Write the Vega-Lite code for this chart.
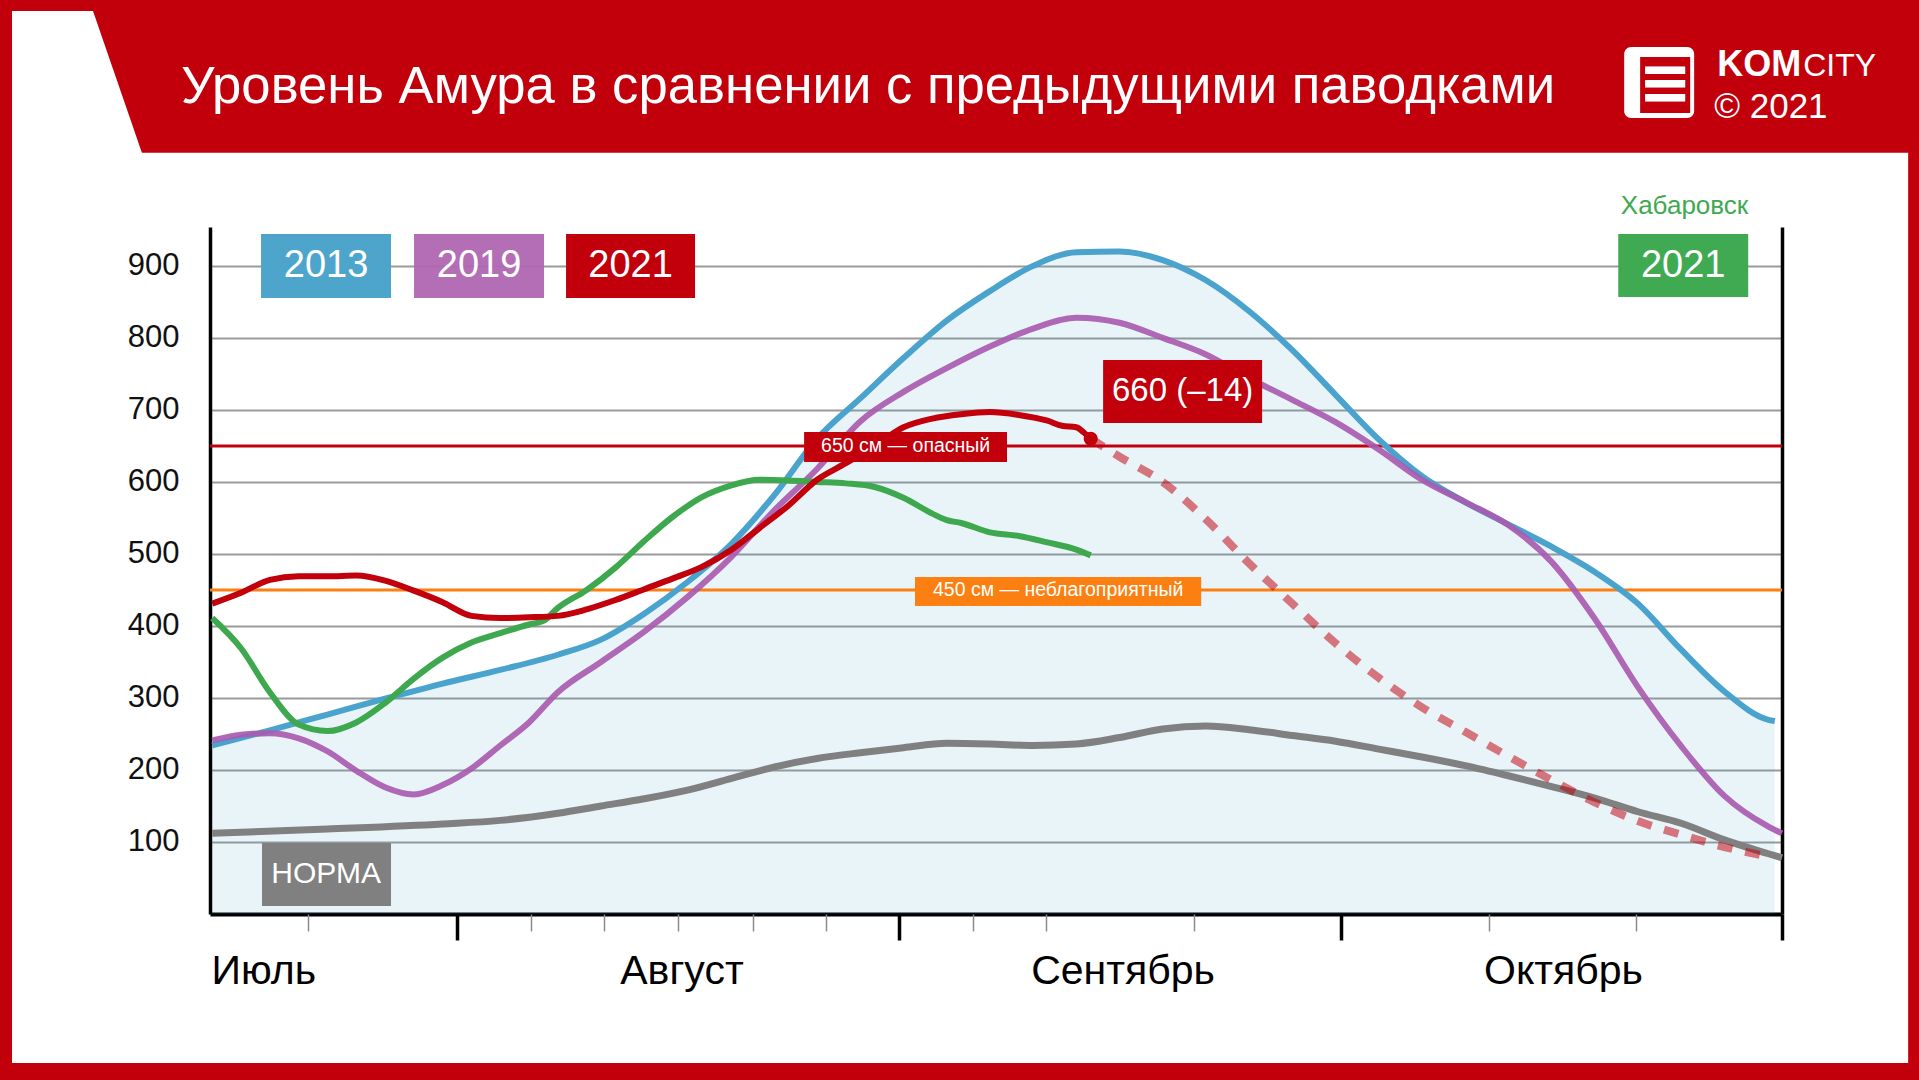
{
"$schema":"https://vega.github.io/schema/vega-lite/v6.json",
"width":1572,"height":687,
"autosize":{"type":"none"},
"padding":{"left":210,"top":227,"right":137,"bottom":166},
"background":"#ffffff",
"config":{"view":{"stroke":null},"font":"Liberation Sans"},
"datasets":{"levels":[
{"s":"2013","date":"2021-07-15","v":234},{"s":"2013","date":"2021-07-19","v":255},{"s":"2013","date":"2021-07-23","v":277},{"s":"2013","date":"2021-07-27","v":299},{"s":"2013","date":"2021-07-31","v":320},{"s":"2013","date":"2021-08-04","v":339},{"s":"2013","date":"2021-08-08","v":360},{"s":"2013","date":"2021-08-11","v":381},{"s":"2013","date":"2021-08-14","v":417},{"s":"2013","date":"2021-08-17","v":461},{"s":"2013","date":"2021-08-20","v":513},{"s":"2013","date":"2021-08-23","v":581},{"s":"2013","date":"2021-08-26","v":660},{"s":"2013","date":"2021-08-29","v":716},{"s":"2013","date":"2021-09-01","v":772},{"s":"2013","date":"2021-09-04","v":824},{"s":"2013","date":"2021-09-07","v":865},{"s":"2013","date":"2021-09-10","v":900},{"s":"2013","date":"2021-09-13","v":919},{"s":"2013","date":"2021-09-16","v":920},{"s":"2013","date":"2021-09-19","v":908},{"s":"2013","date":"2021-09-22","v":880},{"s":"2013","date":"2021-09-25","v":837},{"s":"2013","date":"2021-09-28","v":783},{"s":"2013","date":"2021-10-01","v":721},{"s":"2013","date":"2021-10-04","v":659},{"s":"2013","date":"2021-10-07","v":608},{"s":"2013","date":"2021-10-10","v":572},{"s":"2013","date":"2021-10-13","v":541},{"s":"2013","date":"2021-10-16","v":510},{"s":"2013","date":"2021-10-19","v":475},{"s":"2013","date":"2021-10-22","v":431},{"s":"2013","date":"2021-10-25","v":367},{"s":"2013","date":"2021-10-28","v":309},{"s":"2013","date":"2021-10-31","v":270},{"s":"2013","date":"2021-10-31T12:00:00Z","v":268},
{"s":"2019","date":"2021-07-15","v":241},{"s":"2019","date":"2021-07-17","v":249},{"s":"2019","date":"2021-07-19","v":251},{"s":"2019","date":"2021-07-21","v":244},{"s":"2019","date":"2021-07-23","v":226},{"s":"2019","date":"2021-07-25","v":199},{"s":"2019","date":"2021-07-27","v":176},{"s":"2019","date":"2021-07-29","v":166},{"s":"2019","date":"2021-07-31","v":179},{"s":"2019","date":"2021-08-02","v":202},{"s":"2019","date":"2021-08-04","v":234},{"s":"2019","date":"2021-08-06","v":266},{"s":"2019","date":"2021-08-08","v":308},{"s":"2019","date":"2021-08-11","v":350},{"s":"2019","date":"2021-08-14","v":392},{"s":"2019","date":"2021-08-17","v":440},{"s":"2019","date":"2021-08-20","v":495},{"s":"2019","date":"2021-08-23","v":560},{"s":"2019","date":"2021-08-26","v":618},{"s":"2019","date":"2021-08-29","v":684},{"s":"2019","date":"2021-09-01","v":725},{"s":"2019","date":"2021-09-04","v":758},{"s":"2019","date":"2021-09-07","v":788},{"s":"2019","date":"2021-09-10","v":813},{"s":"2019","date":"2021-09-13","v":828},{"s":"2019","date":"2021-09-16","v":821},{"s":"2019","date":"2021-09-19","v":800},{"s":"2019","date":"2021-09-22","v":777},{"s":"2019","date":"2021-09-25","v":744},{"s":"2019","date":"2021-09-28","v":714},{"s":"2019","date":"2021-10-01","v":683},{"s":"2019","date":"2021-10-04","v":645},{"s":"2019","date":"2021-10-07","v":603},{"s":"2019","date":"2021-10-10","v":572},{"s":"2019","date":"2021-10-13","v":540},{"s":"2019","date":"2021-10-16","v":489},{"s":"2019","date":"2021-10-19","v":410},{"s":"2019","date":"2021-10-22","v":315},{"s":"2019","date":"2021-10-25","v":233},{"s":"2019","date":"2021-10-28","v":164},{"s":"2019","date":"2021-10-31","v":122},{"s":"2019","date":"2021-11-01","v":112},
{"s":"2021","date":"2021-07-15","v":431},{"s":"2021","date":"2021-07-17","v":446},{"s":"2021","date":"2021-07-19","v":464},{"s":"2021","date":"2021-07-21","v":469},{"s":"2021","date":"2021-07-23","v":469},{"s":"2021","date":"2021-07-25","v":470},{"s":"2021","date":"2021-07-27","v":463},{"s":"2021","date":"2021-07-29","v":449},{"s":"2021","date":"2021-07-31","v":433},{"s":"2021","date":"2021-08-02","v":414},{"s":"2021","date":"2021-08-04","v":411},{"s":"2021","date":"2021-08-06","v":412},{"s":"2021","date":"2021-08-08","v":414},{"s":"2021","date":"2021-08-10","v":423},{"s":"2021","date":"2021-08-12","v":436},{"s":"2021","date":"2021-08-14","v":451},{"s":"2021","date":"2021-08-16","v":466},{"s":"2021","date":"2021-08-18","v":482},{"s":"2021","date":"2021-08-20","v":505},{"s":"2021","date":"2021-08-22","v":536},{"s":"2021","date":"2021-08-24","v":567},{"s":"2021","date":"2021-08-26","v":603},{"s":"2021","date":"2021-08-28","v":626},{"s":"2021","date":"2021-08-30","v":650},{"s":"2021","date":"2021-09-01","v":676},{"s":"2021","date":"2021-09-03","v":688},{"s":"2021","date":"2021-09-05","v":694},{"s":"2021","date":"2021-09-07","v":697},{"s":"2021","date":"2021-09-09","v":693},{"s":"2021","date":"2021-09-11","v":685},{"s":"2021","date":"2021-09-12","v":678},{"s":"2021","date":"2021-09-13","v":676},{"s":"2021","date":"2021-09-13T12:00:00Z","v":669},{"s":"2021","date":"2021-09-14","v":660},
{"s":"2021 прогноз","date":"2021-09-14","v":660},{"s":"2021 прогноз","date":"2021-09-16","v":635},{"s":"2021 прогноз","date":"2021-09-19","v":600},{"s":"2021 прогноз","date":"2021-09-22","v":548},{"s":"2021 прогноз","date":"2021-09-25","v":487},{"s":"2021 прогноз","date":"2021-09-28","v":431},{"s":"2021 прогноз","date":"2021-10-01","v":376},{"s":"2021 прогноз","date":"2021-10-04","v":328},{"s":"2021 прогноз","date":"2021-10-07","v":287},{"s":"2021 прогноз","date":"2021-10-10","v":253},{"s":"2021 прогноз","date":"2021-10-13","v":219},{"s":"2021 прогноз","date":"2021-10-16","v":186},{"s":"2021 прогноз","date":"2021-10-19","v":155},{"s":"2021 прогноз","date":"2021-10-22","v":129},{"s":"2021 прогноз","date":"2021-10-25","v":110},{"s":"2021 прогноз","date":"2021-10-28","v":93},{"s":"2021 прогноз","date":"2021-10-31","v":80},
{"s":"Хабаровск 2021","date":"2021-07-15","v":411},{"s":"Хабаровск 2021","date":"2021-07-17","v":369},{"s":"Хабаровск 2021","date":"2021-07-19","v":308},{"s":"Хабаровск 2021","date":"2021-07-21","v":263},{"s":"Хабаровск 2021","date":"2021-07-23","v":254},{"s":"Хабаровск 2021","date":"2021-07-25","v":266},{"s":"Хабаровск 2021","date":"2021-07-27","v":293},{"s":"Хабаровск 2021","date":"2021-07-29","v":327},{"s":"Хабаровск 2021","date":"2021-07-31","v":356},{"s":"Хабаровск 2021","date":"2021-08-02","v":377},{"s":"Хабаровск 2021","date":"2021-08-04","v":390},{"s":"Хабаровск 2021","date":"2021-08-06","v":402},{"s":"Хабаровск 2021","date":"2021-08-07","v":407},{"s":"Хабаровск 2021","date":"2021-08-08","v":425},{"s":"Хабаровск 2021","date":"2021-08-10","v":450},{"s":"Хабаровск 2021","date":"2021-08-12","v":481},{"s":"Хабаровск 2021","date":"2021-08-14","v":518},{"s":"Хабаровск 2021","date":"2021-08-16","v":552},{"s":"Хабаровск 2021","date":"2021-08-18","v":579},{"s":"Хабаровск 2021","date":"2021-08-20","v":595},{"s":"Хабаровск 2021","date":"2021-08-22","v":603},{"s":"Хабаровск 2021","date":"2021-08-24","v":602},{"s":"Хабаровск 2021","date":"2021-08-26","v":600},{"s":"Хабаровск 2021","date":"2021-08-28","v":598},{"s":"Хабаровск 2021","date":"2021-08-30","v":593},{"s":"Хабаровск 2021","date":"2021-09-01","v":578},{"s":"Хабаровск 2021","date":"2021-09-03","v":556},{"s":"Хабаровск 2021","date":"2021-09-04","v":547},{"s":"Хабаровск 2021","date":"2021-09-05","v":543},{"s":"Хабаровск 2021","date":"2021-09-07","v":530},{"s":"Хабаровск 2021","date":"2021-09-09","v":525},{"s":"Хабаровск 2021","date":"2021-09-11","v":516},{"s":"Хабаровск 2021","date":"2021-09-13","v":506},{"s":"Хабаровск 2021","date":"2021-09-14","v":498},
{"s":"Норма","date":"2021-07-15","v":112},{"s":"Норма","date":"2021-07-23","v":118},{"s":"Норма","date":"2021-07-31","v":125},{"s":"Норма","date":"2021-08-04","v":130},{"s":"Норма","date":"2021-08-08","v":140},{"s":"Норма","date":"2021-08-11","v":150},{"s":"Норма","date":"2021-08-14","v":160},{"s":"Норма","date":"2021-08-17","v":172},{"s":"Норма","date":"2021-08-20","v":188},{"s":"Норма","date":"2021-08-23","v":204},{"s":"Норма","date":"2021-08-26","v":216},{"s":"Норма","date":"2021-08-29","v":224},{"s":"Норма","date":"2021-09-01","v":231},{"s":"Норма","date":"2021-09-04","v":237},{"s":"Норма","date":"2021-09-07","v":236},{"s":"Норма","date":"2021-09-10","v":234},{"s":"Норма","date":"2021-09-13","v":236},{"s":"Норма","date":"2021-09-16","v":245},{"s":"Норма","date":"2021-09-19","v":257},{"s":"Норма","date":"2021-09-22","v":261},{"s":"Норма","date":"2021-09-25","v":256},{"s":"Норма","date":"2021-09-28","v":248},{"s":"Норма","date":"2021-10-01","v":240},{"s":"Норма","date":"2021-10-04","v":229},{"s":"Норма","date":"2021-10-07","v":218},{"s":"Норма","date":"2021-10-10","v":206},{"s":"Норма","date":"2021-10-13","v":192},{"s":"Норма","date":"2021-10-16","v":177},{"s":"Норма","date":"2021-10-19","v":161},{"s":"Норма","date":"2021-10-22","v":142},{"s":"Норма","date":"2021-10-25","v":126},{"s":"Норма","date":"2021-10-28","v":103},{"s":"Норма","date":"2021-10-31","v":84},{"s":"Норма","date":"2021-11-01","v":78}
]},
"layer":[
{"data":{"name":"levels"},"transform":[{"filter":"datum.s === '2013'"}],
 "mark":{"type":"area","color":"#4aa3cd","opacity":0.12,"interpolate":"monotone"},
 "encoding":{
  "x":{"field":"date","type":"temporal","scale":{"type":"utc","domain":[{"year":2021,"month":7,"date":14,"hours":20,"minutes":20,"utc":true},{"year":2021,"month":11,"date":1,"utc":true}],"nice":false},
   "axis":{"orient":"bottom","title":null,"values":[{"year":2021,"month":7,"date":18,"hours":13,"utc":true},{"year":2021,"month":8,"date":16,"hours":14,"utc":true},{"year":2021,"month":9,"date":16,"hours":5,"utc":true},{"year":2021,"month":10,"date":16,"hours":19,"utc":true}],
    "labelExpr":"['Июль','Август','Сентябрь','Октябрь'][utcmonth(datum.value)-6]","ticks":false,"tickSize":0,"grid":false,"domain":true,"domainColor":"#000000","domainWidth":4,
    "labelFontSize":41,"labelColor":"#000000","labelPadding":69,"labelBaseline":"alphabetic","labelAlign":"center","labelFlush":false,"labelOverlap":false,"labelLimit":0,"labelFont":"Liberation Sans"}},
  "y":{"field":"v","type":"quantitative","scale":{"domain":[0,954],"nice":false,"zero":true},
   "axis":{"orient":"left","title":null,"values":[100,200,300,400,500,600,700,800,900],"grid":true,"gridColor":"#9a9a9a","gridWidth":2,"ticks":false,"tickSize":0,"domain":true,"domainColor":"#000000","domainWidth":3.5,"labelFontSize":31,"labelColor":"#111111","labelPadding":31,"labelFont":"Liberation Sans"}}
 }},
{"data":{"values":[{}]},"mark":{"type":"rule","color":"#c1000c","strokeWidth":3},"encoding":{"y":{"datum":650,"type":"quantitative","axis":null}}},
{"data":{"values":[{}]},"mark":{"type":"rule","color":"#fb7f11","strokeWidth":3},"encoding":{"y":{"datum":450,"type":"quantitative","axis":null}}},
{"data":{"name":"levels"},"transform":[{"filter":"datum.s === 'Норма'"}],
 "mark":{"type":"line","color":"#808080","strokeWidth":7,"interpolate":"monotone"},
 "encoding":{
  "x":{"field":"date","type":"temporal","axis":{"orient":"bottom","title":null,"values":[{"year":2021,"month":8,"date":1,"utc":true},{"year":2021,"month":8,"date":31,"hours":17,"minutes":17,"utc":true},{"year":2021,"month":10,"date":1,"hours":9,"minutes":20,"utc":true},{"year":2021,"month":11,"date":1,"utc":true}],"labels":false,"ticks":true,"tickSize":26,"tickWidth":3.5,"tickColor":"#000000","domain":false,"grid":false}},
  "y":{"field":"v","type":"quantitative","axis":{"orient":"right","title":null,"labels":false,"ticks":false,"grid":false,"domain":true,"domainColor":"#000000","domainWidth":3.5}}
 }},
{"data":{"name":"levels"},"transform":[{"filter":"datum.s === '2013'"}],
 "mark":{"type":"line","color":"#4aa3cd","strokeWidth":6,"interpolate":"monotone"},
 "encoding":{
  "x":{"field":"date","type":"temporal","axis":{"orient":"bottom","title":null,"values":[{"year":2021,"month":7,"date":21,"hours":16,"utc":true},{"year":2021,"month":8,"date":6,"hours":3,"utc":true},{"year":2021,"month":8,"date":11,"hours":5,"utc":true},{"year":2021,"month":8,"date":16,"hours":8,"utc":true},{"year":2021,"month":8,"date":21,"hours":13,"utc":true},{"year":2021,"month":8,"date":26,"hours":15,"utc":true},{"year":2021,"month":9,"date":5,"hours":20,"utc":true},{"year":2021,"month":9,"date":10,"hours":22,"utc":true},{"year":2021,"month":9,"date":21,"hours":4,"utc":true},{"year":2021,"month":10,"date":11,"hours":16,"utc":true},{"year":2021,"month":10,"date":21,"hours":21,"utc":true}],"labels":false,"ticks":true,"tickSize":17,"tickWidth":1.5,"tickColor":"#8c8c8c","domain":false,"grid":false}},
  "y":{"field":"v","type":"quantitative","axis":null}
 }},
{"data":{"name":"levels"},"transform":[{"filter":"datum.s === '2019'"}],
 "mark":{"type":"line","color":"#a85bb0","opacity":0.92,"strokeWidth":6,"interpolate":"monotone"},
 "encoding":{"x":{"field":"date","type":"temporal","axis":null},"y":{"field":"v","type":"quantitative","axis":null}}},
{"data":{"name":"levels"},"transform":[{"filter":"datum.s === 'Хабаровск 2021'"}],
 "mark":{"type":"line","color":"#3ea84f","strokeWidth":6,"interpolate":"monotone"},
 "encoding":{"x":{"field":"date","type":"temporal","axis":null},"y":{"field":"v","type":"quantitative","axis":null}}},
{"data":{"name":"levels"},"transform":[{"filter":"datum.s === '2021'"}],
 "mark":{"type":"line","color":"#c1000c","strokeWidth":6,"interpolate":"monotone"},
 "encoding":{"x":{"field":"date","type":"temporal","axis":null},"y":{"field":"v","type":"quantitative","axis":null}}},
{"data":{"name":"levels"},"transform":[{"filter":"datum.s === '2021 прогноз'"}],
 "mark":{"type":"line","color":"#c1000c","opacity":0.52,"strokeWidth":8,"strokeDash":[15,13],"interpolate":"monotone"},
 "encoding":{"x":{"field":"date","type":"temporal","axis":null},"y":{"field":"v","type":"quantitative","axis":null}}},
{"data":{"values":[{}]},"mark":{"type":"point","filled":true,"size":200,"color":"#c1000c","opacity":1},
 "encoding":{"x":{"datum":{"year":2021,"month":9,"date":14,"utc":true},"type":"temporal","axis":null},"y":{"datum":660,"type":"quantitative","axis":null}}},
{"data":{"values":[{}]},"mark":{"type":"rect","color":"#c1000c"},
 "encoding":{"x":{"datum":{"year":2021,"month":8,"date":25,"hours":2,"minutes":24,"utc":true},"type":"temporal","axis":null},"x2":{"datum":{"year":2021,"month":9,"date":8,"hours":4,"minutes":30,"utc":true}},"y":{"datum":627.7,"type":"quantitative","axis":null},"y2":{"datum":669.4}}},
{"data":{"values":[{}]},"mark":{"type":"text","text":"650 см — опасный","color":"#ffffff","fontSize":19.5,"align":"center","baseline":"middle"},
 "encoding":{"x":{"datum":{"year":2021,"month":9,"date":1,"hours":3,"minutes":36,"utc":true},"type":"temporal","axis":null},"y":{"datum":650,"type":"quantitative","axis":null}}},
{"data":{"values":[{}]},"mark":{"type":"rect","color":"#fb7f11"},
 "encoding":{"x":{"datum":{"year":2021,"month":9,"date":1,"hours":19,"minutes":12,"utc":true},"type":"temporal","axis":null},"x2":{"datum":{"year":2021,"month":9,"date":21,"hours":16,"minutes":5,"utc":true}},"y":{"datum":427.7,"type":"quantitative","axis":null},"y2":{"datum":468}}},
{"data":{"values":[{}]},"mark":{"type":"text","text":"450 см — неблагоприятный","color":"#ffffff","fontSize":19.5,"align":"center","baseline":"middle"},
 "encoding":{"x":{"datum":{"year":2021,"month":9,"date":11,"hours":17,"minutes":45,"utc":true},"type":"temporal","axis":null},"y":{"datum":450,"type":"quantitative","axis":null}}},
{"data":{"values":[{}]},"mark":{"type":"rect","color":"#c1000c"},
 "encoding":{"x":{"datum":{"year":2021,"month":9,"date":14,"hours":20,"minutes":40,"utc":true},"type":"temporal","axis":null},"x2":{"datum":{"year":2021,"month":9,"date":25,"hours":21,"minutes":36,"utc":true}},"y":{"datum":681.8,"type":"quantitative","axis":null},"y2":{"datum":769.3}}},
{"data":{"values":[{}]},"mark":{"type":"text","text":"660 (–14)","color":"#ffffff","fontSize":33,"align":"center","baseline":"middle"},
 "encoding":{"x":{"datum":{"year":2021,"month":9,"date":20,"hours":9,"minutes":7,"utc":true},"type":"temporal","axis":null},"y":{"datum":725.6,"type":"quantitative","axis":null}}},
{"data":{"values":[{}]},"mark":{"type":"rect","color":"#4ea5cc"},
 "encoding":{"x":{"datum":{"year":2021,"month":7,"date":18,"hours":9,"minutes":22,"utc":true},"type":"temporal","axis":null},"x2":{"datum":{"year":2021,"month":7,"date":27,"hours":10,"utc":true}},"y":{"datum":855.4,"type":"quantitative","axis":null},"y2":{"datum":944.3}}},
{"data":{"values":[{}]},"mark":{"type":"rect","color":"#b066b2","opacity":0.95},
 "encoding":{"x":{"datum":{"year":2021,"month":7,"date":29,"hours":0,"minutes":20,"utc":true},"type":"temporal","axis":null},"x2":{"datum":{"year":2021,"month":8,"date":7,"hours":1,"utc":true}},"y":{"datum":855.4,"type":"quantitative","axis":null},"y2":{"datum":944.3}}},
{"data":{"values":[{}]},"mark":{"type":"rect","color":"#c1000c"},
 "encoding":{"x":{"datum":{"year":2021,"month":8,"date":8,"hours":13,"minutes":40,"utc":true},"type":"temporal","axis":null},"x2":{"datum":{"year":2021,"month":8,"date":17,"hours":12,"minutes":40,"utc":true}},"y":{"datum":855.4,"type":"quantitative","axis":null},"y2":{"datum":944.3}}},
{"data":{"values":[{}]},"mark":{"type":"rect","color":"#40aa52"},
 "encoding":{"x":{"datum":{"year":2021,"month":10,"date":20,"hours":15,"minutes":7,"utc":true},"type":"temporal","axis":null},"x2":{"datum":{"year":2021,"month":10,"date":29,"hours":15,"minutes":40,"utc":true}},"y":{"datum":856.8,"type":"quantitative","axis":null},"y2":{"datum":944.3}}},
{"data":{"values":[{}]},"mark":{"type":"rect","color":"#808080"},
 "encoding":{"x":{"datum":{"year":2021,"month":7,"date":18,"hours":11,"utc":true},"type":"temporal","axis":null},"x2":{"datum":{"year":2021,"month":7,"date":27,"hours":10,"utc":true}},"y":{"datum":11.1,"type":"quantitative","axis":null},"y2":{"datum":98.6}}},
{"data":{"values":[{}]},"mark":{"type":"text","text":"2013","color":"#ffffff","fontSize":38,"align":"center","baseline":"middle"},
 "encoding":{"x":{"datum":{"year":2021,"month":7,"date":22,"hours":21,"minutes":40,"utc":true},"type":"temporal","axis":null},"y":{"datum":900,"type":"quantitative","axis":null}}},
{"data":{"values":[{}]},"mark":{"type":"text","text":"2019","color":"#ffffff","fontSize":38,"align":"center","baseline":"middle"},
 "encoding":{"x":{"datum":{"year":2021,"month":8,"date":2,"hours":12,"minutes":40,"utc":true},"type":"temporal","axis":null},"y":{"datum":900,"type":"quantitative","axis":null}}},
{"data":{"values":[{}]},"mark":{"type":"text","text":"2021","color":"#ffffff","fontSize":38,"align":"center","baseline":"middle"},
 "encoding":{"x":{"datum":{"year":2021,"month":8,"date":13,"hours":1,"minutes":10,"utc":true},"type":"temporal","axis":null},"y":{"datum":900,"type":"quantitative","axis":null}}},
{"data":{"values":[{}]},"mark":{"type":"text","text":"2021","color":"#ffffff","fontSize":38,"align":"center","baseline":"middle"},
 "encoding":{"x":{"datum":{"year":2021,"month":10,"date":25,"hours":3,"minutes":20,"utc":true},"type":"temporal","axis":null},"y":{"datum":900,"type":"quantitative","axis":null}}},
{"data":{"values":[{}]},"mark":{"type":"text","text":"Хабаровск","color":"#3fa950","fontSize":26,"align":"right","baseline":"alphabetic"},
 "encoding":{"x":{"datum":{"year":2021,"month":10,"date":29,"hours":15,"minutes":40,"utc":true},"type":"temporal","axis":null},"y":{"datum":972.1,"type":"quantitative","axis":null}}},
{"data":{"values":[{}]},"mark":{"type":"text","text":"НОРМА","color":"#ffffff","fontSize":30,"align":"center","baseline":"middle"},
 "encoding":{"x":{"datum":{"year":2021,"month":7,"date":22,"hours":22,"utc":true},"type":"temporal","axis":null},"y":{"datum":54.9,"type":"quantitative","axis":null}}},
{"data":{"values":[{}]},"mark":{"type":"rect","color":"#c1000c"},
 "encoding":{"x":{"datum":{"year":2021,"month":6,"date":28,"utc":true},"type":"temporal","axis":null},"x2":{"datum":{"year":2021,"month":11,"date":12,"utc":true}},"y":{"datum":1057,"type":"quantitative","axis":null},"y2":{"datum":1300}}},
{"data":{"values":[{}]},"mark":{"type":"point","shape":"M-1,-1L0.141,-1L0.831,1L-1,1Z","filled":true,"size":20164,"color":"#ffffff","opacity":1},
 "encoding":{"x":{"datum":{"year":2021,"month":7,"date":6,"hours":0,"minutes":40,"utc":true},"type":"temporal","axis":null},"y":{"datum":1155.4,"type":"quantitative","axis":null}}},
{"data":{"values":[{}]},"mark":{"type":"rect","color":"#c1000c"},
 "encoding":{"x":{"datum":{"year":2021,"month":6,"date":28,"utc":true},"type":"temporal","axis":null},"x2":{"datum":{"year":2021,"month":7,"date":1,"hours":2,"minutes":24,"utc":true}},"y":{"datum":-300,"type":"quantitative","axis":null},"y2":{"datum":1300}}},
{"data":{"values":[{}]},"mark":{"type":"rect","color":"#c1000c"},
 "encoding":{"x":{"datum":{"year":2021,"month":11,"date":9,"hours":18,"minutes":14,"utc":true},"type":"temporal","axis":null},"x2":{"datum":{"year":2021,"month":11,"date":12,"utc":true}},"y":{"datum":-300,"type":"quantitative","axis":null},"y2":{"datum":1300}}},
{"data":{"values":[{}]},"mark":{"type":"rect","color":"#c1000c"},
 "encoding":{"x":{"datum":{"year":2021,"month":6,"date":28,"utc":true},"type":"temporal","axis":null},"x2":{"datum":{"year":2021,"month":11,"date":12,"utc":true}},"y":{"datum":-300,"type":"quantitative","axis":null},"y2":{"datum":-207}}},
{"data":{"values":[{}]},"mark":{"type":"text","text":"Уровень Амура в сравнении с предыдущими паводками","color":"#ffffff","fontSize":52.7,"align":"left","baseline":"alphabetic"},
 "encoding":{"x":{"datum":{"year":2021,"month":7,"date":12,"hours":19,"minutes":55,"utc":true},"type":"temporal","axis":null},"y":{"datum":1126.2,"type":"quantitative","axis":null}}},
{"data":{"values":[{}]},"mark":{"type":"rect","color":"#ffffff","cornerRadius":7},
 "encoding":{"x":{"datum":{"year":2021,"month":10,"date":21,"hours":1,"utc":true},"type":"temporal","axis":null},"x2":{"datum":{"year":2021,"month":10,"date":25,"hours":21,"minutes":36,"utc":true}},"y":{"datum":1105.4,"type":"quantitative","axis":null},"y2":{"datum":1204}}},
{"data":{"values":[{}]},"mark":{"type":"rect","color":"#c1000c"},
 "encoding":{"x":{"datum":{"year":2021,"month":10,"date":22,"hours":3,"minutes":36,"utc":true},"type":"temporal","axis":null},"x2":{"datum":{"year":2021,"month":10,"date":25,"hours":15,"utc":true}},"y":{"datum":1112.4,"type":"quantitative","axis":null},"y2":{"datum":1190}}},
{"data":{"values":[{}]},"mark":{"type":"text","text":"≡","color":"#ffffff","fontSize":64,"font":"DejaVu Sans","fontWeight":"bold","align":"center","baseline":"middle"},
 "encoding":{"x":{"datum":{"year":2021,"month":10,"date":23,"hours":21,"minutes":20,"utc":true},"type":"temporal","axis":null},"y":{"datum":1151,"type":"quantitative","axis":null}}},
{"data":{"values":[{}]},"mark":{"type":"text","text":"KOM","color":"#ffffff","fontSize":36,"fontWeight":"bold","align":"left","baseline":"alphabetic"},
 "encoding":{"x":{"datum":{"year":2021,"month":10,"date":27,"hours":12,"utc":true},"type":"temporal","axis":null},"y":{"datum":1163.7,"type":"quantitative","axis":null}}},
{"data":{"values":[{}]},"mark":{"type":"text","text":"CITY","color":"#ffffff","fontSize":32,"align":"left","baseline":"alphabetic"},
 "encoding":{"x":{"datum":{"year":2021,"month":11,"date":2,"hours":11,"minutes":17,"utc":true},"type":"temporal","axis":null},"y":{"datum":1163.7,"type":"quantitative","axis":null}}},
{"data":{"values":[{}]},"mark":{"type":"text","text":"© 2021","color":"#ffffff","fontSize":35,"align":"left","baseline":"alphabetic"},
 "encoding":{"x":{"datum":{"year":2021,"month":10,"date":27,"hours":7,"utc":true},"type":"temporal","axis":null},"y":{"datum":1105.4,"type":"quantitative","axis":null}}}
],
"resolve":{"axis":{"x":"independent","y":"independent"}}
}
